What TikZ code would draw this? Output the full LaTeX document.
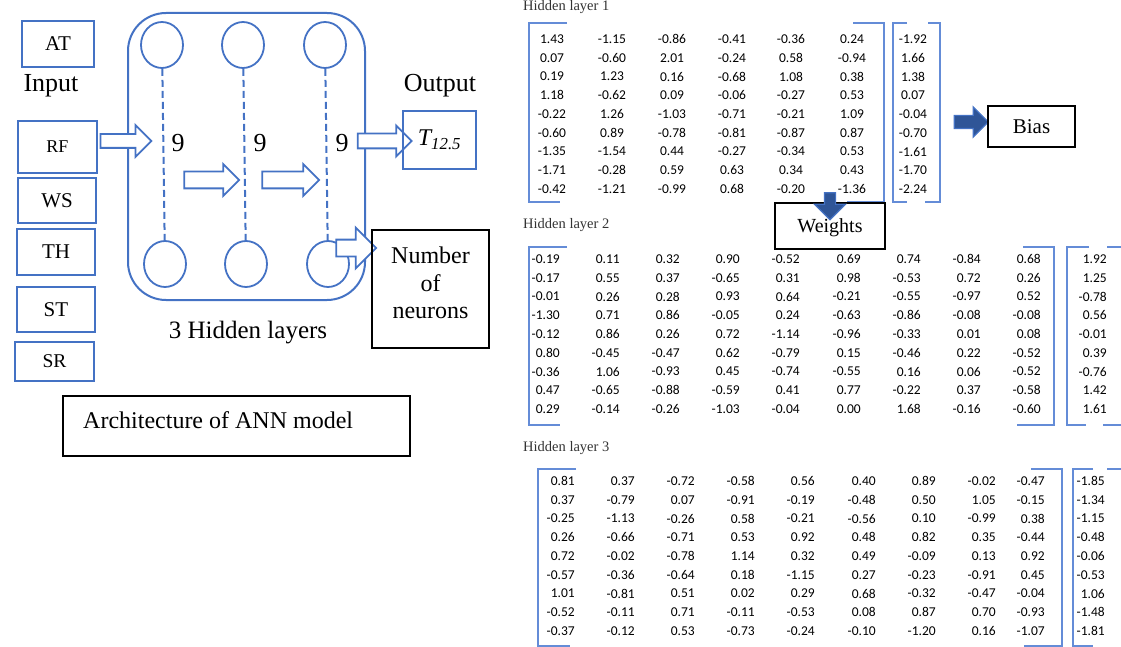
\documentclass[tikz,border=0pt]{standalone}
\usepackage{fontspec}
\setmainfont{Liberation Serif}
\newfontfamily\numfont{Carlito}
\usepackage{xcolor}
\usepackage{tikz}
\usetikzlibrary{shapes.geometric,shapes.arrows,positioning,calc}
\definecolor{annblue}{RGB}{68,114,196}
\definecolor{darkblue}{RGB}{47,85,151}
\definecolor{brk}{RGB}{100,140,215}

\begin{document}
\begin{tikzpicture}[x=1pt, y=-1pt,
  inbox/.style={draw=annblue, line width=2pt, inner sep=0pt, font=\fontsize{21}{24}\selectfont},
  plainbox/.style={draw=black, line width=1.3pt, inner sep=0pt},
  neuron/.style={ellipse, draw=annblue, line width=1.8pt, minimum width=42pt, minimum height=46pt, inner sep=0pt},
  hollow/.style={single arrow, draw=annblue, fill=white, line width=1.8pt, inner xsep=0pt, single arrow tip angle=90},
  darrow/.style={single arrow, draw=annblue, fill=darkblue, line width=1.2pt, inner xsep=0pt, single arrow tip angle=90},
  lbl/.style={font=\fontsize{26}{30}\selectfont, inner sep=0pt, anchor=base},
  num/.style={font={\numfont\fontsize{13.5}{14}\selectfont}, inner sep=0pt},
  layerlbl/.style={font=\fontsize{14.5}{16}\selectfont, text=black!80, inner sep=0pt, anchor=base west},
  brace/.style={draw=brk, line width=1.2pt}]
  \clip (0,0) rectangle (1121,647);

  % inputs
  \node[inbox, minimum width=72pt, minimum height=46pt] (at) at (58,44) {AT};
  \node[lbl] (input) at (51,92) {Input};
  \node[inbox, minimum width=79pt, minimum height=52pt, font=\fontsize{18}{20}\selectfont] (rf) at (57.5,147) {RF};
  \node[inbox, minimum width=78pt, minimum height=45pt] (ws) at (57,200.5) {WS};
  \node[inbox, minimum width=78pt, minimum height=46pt] (th) at (56,252) {TH};
  \node[inbox, minimum width=78pt, minimum height=45pt] (st) at (56,309.5) {ST};
  \node[inbox, minimum width=79pt, minimum height=39pt, font=\fontsize{19.5}{22}\selectfont] (sr) at (54.5,361) {SR};

  % hidden layers
  \node[draw=annblue, line width=2pt, rounded corners=38pt, minimum width=237pt, minimum height=287pt] (hidden) at (246.5,156.5) {};
  \node[neuron] (h1t) at (162,45) {};
  \node[neuron] (h2t) at (243,45) {};
  \node[neuron] (h3t) at (325,45) {};
  \node[neuron] (h1b) at (165,264) {};
  \node[neuron] (h2b) at (246,264) {};
  \node[neuron] (h3b) at (328,264) {};
  \draw[annblue, line width=2pt, dash pattern=on 7pt off 4pt] (h1t) -- (h1b);
  \draw[annblue, line width=2pt, dash pattern=on 7pt off 4pt] (h2t) -- (h2b);
  \draw[annblue, line width=2pt, dash pattern=on 7pt off 4pt] (h3t) -- (h3b);
  \node[lbl] (n1) at (178,152) {9};
  \node[lbl] (n2) at (260,152) {9};
  \node[lbl] (n3) at (342,152) {9};
  \node[lbl, font=\fontsize{25}{30}\selectfont] (hl) at (248,338) {3 Hidden layers};

  % block arrows (shaft = 2 x inner ysep)
  \node[hollow, minimum height=51pt, inner ysep=6pt, single arrow head extend=9pt] (arf) at (122.5,141) {};
  \node[hollow, minimum height=55pt, inner ysep=7.5pt, single arrow head extend=7.5pt] (am1) at (207.5,180) {};
  \node[hollow, minimum height=57pt, inner ysep=7.5pt, single arrow head extend=7.5pt] (am2) at (286.5,180) {};
  \node[hollow, minimum height=54pt, inner ysep=6.5pt, single arrow head extend=8pt] (aout) at (381,141) {};
  \node[hollow, minimum height=40pt, inner ysep=7.5pt, single arrow head extend=12pt] (aneur) at (352,248) {};

  % output
  \node[lbl] (output) at (440,92) {Output};
  \node[inbox, minimum width=73pt, minimum height=58pt, font=\fontsize{24}{28}\selectfont] (t) at (439.5,140) {\itshape T\textsubscript{12.5}};
  \node[plainbox, minimum width=117pt, minimum height=118pt] (neur) at (430.5,289) {};
  \node[font=\fontsize{24}{27.5}\selectfont, align=center, inner sep=0pt] (neurtxt) at (430.5,283) {Number\\of\\neurons};
  \node[plainbox, minimum width=347pt, minimum height=60pt] (arch) at (236.5,426) {};
  \node[font=\fontsize{24}{28}\selectfont, inner sep=0pt, anchor=base west] (archtxt) at (83,428) {Architecture of ANN model};

  % weights and biases
  \node[layerlbl] (l1) at (523,11) {Hidden layer 1};
  \node[layerlbl] (l2) at (523,229) {Hidden layer 2};
  \node[layerlbl] (l3) at (523,451) {Hidden layer 3};

  \def\colA{{552,612,672,732,791,852,913}}
  \foreach \row [count=\ri from 0] in {
    {1.43,-1.15,-0.86,-0.41,-0.36,0.24,-1.92},
    {0.07,-0.60,2.01,-0.24,0.58,-0.94,1.66},
    {0.19,1.23,0.16,-0.68,1.08,0.38,1.38},
    {1.18,-0.62,0.09,-0.06,-0.27,0.53,0.07},
    {-0.22,1.26,-1.03,-0.71,-0.21,1.09,-0.04},
    {-0.60,0.89,-0.78,-0.81,-0.87,0.87,-0.70},
    {-1.35,-1.54,0.44,-0.27,-0.34,0.53,-1.61},
    {-1.71,-0.28,0.59,0.63,0.34,0.43,-1.70},
    {-0.42,-1.21,-0.99,0.68,-0.20,-1.36,-2.24}}
    \foreach \v [count=\ci from 0] in \row {
      \pgfmathsetmacro\xx{\colA[\ci]}
      \node[num] (wa-\ri-\ci) at ({\xx},{39+18.75*\ri}) {\v};
    }

  \def\colB{{560,620,680,740,800,861,921,981,1041,1107}}
  \foreach \row [count=\ri from 0] in {
    {-0.19,0.11,0.32,0.90,-0.52,0.69,0.74,-0.84,0.68,1.92},
    {-0.17,0.55,0.37,-0.65,0.31,0.98,-0.53,0.72,0.26,1.25},
    {-0.01,0.26,0.28,0.93,0.64,-0.21,-0.55,-0.97,0.52,-0.78},
    {-1.30,0.71,0.86,-0.05,0.24,-0.63,-0.86,-0.08,-0.08,0.56},
    {-0.12,0.86,0.26,0.72,-1.14,-0.96,-0.33,0.01,0.08,-0.01},
    {0.80,-0.45,-0.47,0.62,-0.79,0.15,-0.46,0.22,-0.52,0.39},
    {-0.36,1.06,-0.93,0.45,-0.74,-0.55,0.16,0.06,-0.52,-0.76},
    {0.47,-0.65,-0.88,-0.59,0.41,0.77,-0.22,0.37,-0.58,1.42},
    {0.29,-0.14,-0.26,-1.03,-0.04,0.00,1.68,-0.16,-0.60,1.61}}
    \foreach \v [count=\ci from 0] in \row {
      \pgfmathsetmacro\xx{\colB[\ci]}
      \node[num, anchor=east] (wb-\ri-\ci) at ({\xx},{259+18.75*\ri}) {\v};
    }

  \def\colC{{575,635,695,755,815,876,936,996,1045,1105}}
  \foreach \row [count=\ri from 0] in {
    {0.81,0.37,-0.72,-0.58,0.56,0.40,0.89,-0.02,-0.47,-1.85},
    {0.37,-0.79,0.07,-0.91,-0.19,-0.48,0.50,1.05,-0.15,-1.34},
    {-0.25,-1.13,-0.26,0.58,-0.21,-0.56,0.10,-0.99,0.38,-1.15},
    {0.26,-0.66,-0.71,0.53,0.92,0.48,0.82,0.35,-0.44,-0.48},
    {0.72,-0.02,-0.78,1.14,0.32,0.49,-0.09,0.13,0.92,-0.06},
    {-0.57,-0.36,-0.64,0.18,-1.15,0.27,-0.23,-0.91,0.45,-0.53},
    {1.01,-0.81,0.51,0.02,0.29,0.68,-0.32,-0.47,-0.04,1.06},
    {-0.52,-0.11,0.71,-0.11,-0.53,0.08,0.87,0.70,-0.93,-1.48},
    {-0.37,-0.12,0.53,-0.73,-0.24,-0.10,-1.20,0.16,-1.07,-1.81}}
    \foreach \v [count=\ci from 0] in \row {
      \pgfmathsetmacro\xx{\colC[\ci]}
      \node[num, anchor=east] (wc-\ri-\ci) at ({\xx},{481+18.75*\ri}) {\v};
    }

  % brackets
  \draw[brace] (567,23) -- (529,23) -- (529,202) -- (560,202);
  \draw[brace] (853,23) -- (884,23) -- (884,202) -- (847,202);
  \draw[brace] (907,23) -- (893,23) -- (893,202) -- (907,202);
  \draw[brace] (928,23) -- (940,23) -- (940,202) -- (925,202);
  \draw[brace] (567,247) -- (529,247) -- (529,425) -- (560,425);
  \draw[brace] (1023,247) -- (1054,247) -- (1054,425) -- (1017,425);
  \draw[brace] (1089,247) -- (1067,247) -- (1067,425) -- (1086,425);
  \draw[brace] (1107,247) -- (1130,247) -- (1130,425) -- (1103,425);
  \draw[brace] (576,469) -- (538,469) -- (538,646) -- (570,646);
  \draw[brace] (1031,469) -- (1062,469) -- (1062,646) -- (1024,646);
  \draw[brace] (1093,469) -- (1073,469) -- (1073,646) -- (1093,646);
  \draw[brace] (1107,469) -- (1130,469) -- (1130,646);

  \node[darrow, minimum height=34pt, inner ysep=6pt, single arrow head extend=8.5pt] (abias) at (968,122) {};
  \node[plainbox, minimum width=87pt, minimum height=41pt, font=\fontsize{21}{24}\selectfont] (bias) at (1031.5,126.5) {Bias};
  \node[plainbox, minimum width=110pt, minimum height=46pt, font=\fontsize{20}{24}\selectfont, text depth=0pt] (weights) at (830,226) {Weights};
  \node[darrow, rotate=-90, minimum height=27pt, inner ysep=5pt, single arrow head extend=10pt] (aw) at (830,203.5) {};
\end{tikzpicture}
\end{document}
